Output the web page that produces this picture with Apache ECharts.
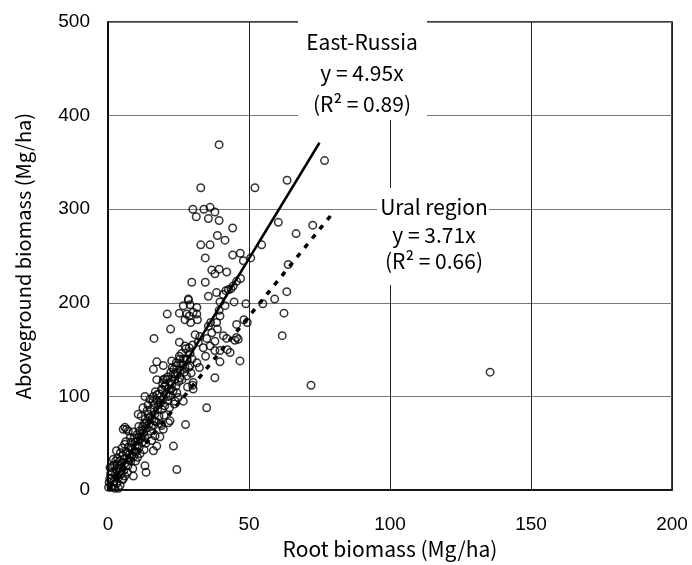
<!DOCTYPE html>
<html>
<head>
<meta charset="utf-8">
<script src="https://cdn.jsdelivr.net/npm/echarts@6/dist/echarts.min.js"></script>
<style>
  html, body { margin: 0; padding: 0; background: #fff; }
  #chart { width: 692px; height: 565px; }
</style>
</head>
<body>
<div id="chart"></div>
<script>
// root biomass (x) / aboveground biomass (y)
const plots = [
  [39.4, 369], [32.9, 323], [52.1, 323], [63.5, 331], [76.8, 352],
  [30.1, 300], [31.3, 292], [34.0, 300], [36.2, 302], [37.9, 297], [35.6, 290], [39.4, 288], [44.2, 280],
  [38.8, 272], [41.5, 267], [32.9, 262], [36.2, 262], [34.5, 248], [44.2, 251], [46.9, 253], [48.0, 245],
  [50.6, 248], [54.5, 262], [60.4, 286], [66.7, 274], [72.6, 283],
  [63.9, 241], [63.4, 212], [59.1, 204], [36.8, 235], [37.9, 231], [39.4, 236], [42.1, 233],
  [29.7, 222], [34.5, 222], [47.0, 226], [28.5, 204], [35.6, 207], [38.5, 211], [41.8, 213], [43.6, 215],
  [40.9, 209], [42.7, 214], [44.4, 218], [45.6, 223],
  [44.7, 201], [48.9, 199], [54.9, 199],
  [28.5, 203], [29.1, 198], [26.7, 197], [31.5, 195],
  [21.0, 188], [25.3, 189], [27.9, 188], [30.2, 190], [31.5, 188], [28.8, 186], [27.3, 182], [29.3, 179], [31.7, 182],
  [39.7, 201], [41.5, 197], [39.4, 192], [39.7, 186], [38.5, 179],
  [36.4, 179], [35.6, 175], [38.8, 172], [36.8, 168],
  [45.6, 177], [49.4, 179], [48.2, 182],
  [22.2, 172], [16.3, 162],
  [30.9, 166], [32.6, 164], [35.0, 162], [37.9, 159], [40.9, 165], [42.1, 162],
  [45.6, 163], [45.0, 160], [46.2, 161],
  [25.3, 158], [27.3, 154], [30.0, 155], [32.0, 158], [33.8, 152], [36.2, 154], [37.9, 149], [34.6, 143],
  [39.7, 149], [42.3, 150], [43.3, 147], [46.8, 138], [39.7, 137],
  [17.3, 137], [19.6, 133], [22.6, 138], [24.3, 133], [25.5, 140], [27.9, 140], [29.1, 133], [31.5, 136], [32.4, 131],
  [37.9, 120], [30.0, 112],
  [16.1, 129], [17.3, 118], [20.2, 119], [23.2, 124], [25.5, 120], [27.9, 122],
  [61.8, 165], [62.4, 189], [72.0, 112], [135.5, 126],
  [30.2, 108], [35.0, 88], [27.5, 70], [23.2, 47], [24.4, 22],
  [16.1, 42], [13.5, 19], [9.0, 15], [5.4, 12], [6.0, 15], [13.1, 26],
  [6.0, 67], [6.6, 65], [10.7, 81], [19.6, 65], [19.0, 69], [21.4, 72], [22.0, 74],
  [16.7, 58], [15.5, 53], [17.3, 47],
  [26.7, 95], [24.9, 99], [23.8, 95], [13.1, 100], [14.9, 97], [16.1, 100],
  [19.6, 118], [20.2, 111], [22.0, 115], [19.0, 108],
  [5.4, 65], [7.2, 63], [30.2, 115],
  // dense band near the origin
  [0.4, 8], [1.1, 3], [1.3, 13], [0.7, 24], [1.9, 33], [2.1, 9], [2.4, 2], [2.6, 17], [2.9, 22], [3.1, 7],
  [3.3, 27], [3.6, 13], [3.9, 19], [4.1, 31], [4.3, 5], [4.6, 24], [4.9, 29], [5.1, 11], [5.3, 37], [1.7, 26],
  [2.7, 31], [3.7, 2], [4.4, 40], [0.9, 17], [5.6, 21], [6.1, 29], [6.3, 41], [6.7, 34], [7.1, 26], [7.2, 46],
  [7.6, 38], [8.1, 31], [8.2, 51], [8.6, 43], [9.1, 36], [9.3, 56], [9.6, 47], [10.1, 41], [10.2, 59], [5.9, 49],
  [7.9, 56], [8.8, 23], [9.8, 31], [10.6, 53], [11.1, 46], [11.2, 63], [11.6, 55], [12.1, 51], [12.3, 68], [12.6, 61],
  [13.1, 56], [13.2, 76], [13.6, 66], [14.1, 59], [14.3, 81], [14.6, 71], [15.1, 63], [15.2, 86], [11.8, 79], [12.8, 43],
  [14.2, 91], [15.6, 76], [16.1, 69], [16.2, 91], [16.6, 81], [17.1, 73], [17.2, 96], [17.6, 86], [18.1, 79], [18.2, 103],
  [18.6, 93], [19.1, 86], [19.2, 107], [19.6, 98], [20.1, 90], [20.3, 112], [16.8, 105], [18.8, 71], [20.6, 103], [21.1, 96],
  [21.2, 121], [21.6, 108], [22.1, 101], [22.3, 126], [22.6, 113], [23.1, 106], [23.3, 129], [23.6, 118], [24.1, 111], [24.2, 136],
  [24.6, 125], [25.1, 116], [25.3, 143], [21.8, 88], [23.5, 92], [25.6, 128], [26.1, 146], [26.5, 134], [27.1, 126], [27.6, 151],
  [28.1, 139], [28.6, 131], [29.1, 146], [29.5, 125], [26.2, 118], [28.2, 110], [3.0, 42], [10.5, 35], [12.4, 88], [18.4, 57],
  [1.5, 19], [2.3, 27], [3.4, 34], [4.7, 17], [5.0, 45], [6.4, 52], [6.9, 19], [7.4, 32], [8.4, 37], [8.9, 62],
  [9.4, 41], [10.4, 48], [10.9, 68], [11.4, 39], [11.9, 58], [12.9, 71], [13.4, 50], [13.9, 85], [14.8, 77], [15.4, 68],
  [15.9, 95], [16.4, 74], [17.4, 102], [17.9, 91], [18.9, 96], [19.4, 114], [19.9, 80], [20.8, 118], [21.4, 100], [22.4, 108],
  [22.8, 131], [23.9, 124], [24.4, 104], [25.8, 135], [26.8, 140], [27.3, 131], [28.8, 152], [29.8, 140], [0.2, 3], [0.6, 12],
  [2.0, 5], [3.2, 15], [4.0, 23], [5.7, 33], [7.0, 40], [8.3, 45], [9.7, 52], [11.0, 57], [12.2, 64], [13.7, 72]
];
// regression lines y = 4.95x (East-Russia) and y = 3.71x (Ural region)
const eastLine = [[0, 0], [75, 371]];
const uralLine = [[0, 0], [80, 297]];
const xTicks = [0, 50, 100, 150, 200];
const yTicks = [0, 100, 200, 300, 400, 500];

const chart = echarts.init(document.getElementById('chart'), null, { renderer: 'canvas' });

const tickFont = { fontFamily: '"Liberation Sans", Arial, sans-serif', fontSize: 19, color: '#000' };
const jpFont = '"Noto Sans CJK JP", "Noto Sans", sans-serif';

// annotation lines, drawn on white boxes
const noteText = (x, y, text) => ({
  type: 'text', z: 101, x: x, y: y,
  style: { text: text, fontFamily: jpFont, fontSize: 21, fill: '#000', align: 'center', verticalAlign: 'middle' }
});

const option = {
  animation: false,
  grid: {
    left: 108, right: 20, top: 22, bottom: 74,
    show: true, borderColor: '#000', borderWidth: 1.5
  },
  xAxis: {
    type: 'value',
    min: xTicks[0], max: xTicks[xTicks.length - 1], interval: 50,
    name: 'Root biomass (Mg/ha)',
    nameLocation: 'middle', nameGap: 46,
    nameTextStyle: { fontFamily: jpFont, fontSize: 21, color: '#000' },
    axisLine: { show: true, lineStyle: { color: '#000', width: 1.5 } },
    axisTick: { show: false },
    axisLabel: Object.assign({ margin: 25 }, tickFont),
    splitLine: { show: true, lineStyle: { color: '#222', width: 1 } }
  },
  yAxis: {
    type: 'value',
    min: yTicks[0], max: yTicks[yTicks.length - 1], interval: 100,
    name: 'Aboveground biomass (Mg/ha)',
    nameLocation: 'middle', nameGap: 75,
    nameTextStyle: { fontFamily: jpFont, fontSize: 20, color: '#000' },
    axisLine: { show: true, lineStyle: { color: '#000', width: 1.5 } },
    axisTick: { show: false },
    axisLabel: Object.assign({ margin: 18 }, tickFont),
    splitLine: { show: true, lineStyle: { color: '#777', width: 1.2 } }
  },
  series: [
    {
      type: 'scatter',
      data: plots,
      symbol: 'circle',
      symbolSize: 7.5,
      itemStyle: { color: 'rgba(0,0,0,0)', borderColor: '#000', borderWidth: 1.5 },
      z: 3
    },
    {
      type: 'line',
      data: eastLine,
      symbol: 'none',
      lineStyle: { color: '#000', width: 2.5 },
      z: 4
    },
    {
      type: 'line',
      data: uralLine,
      symbol: 'none',
      lineStyle: { color: '#000', width: 3.5, type: [5, 7] },
      z: 4
    }
  ],
  graphic: [
    { type: 'rect', z: 100, shape: { x: 298, y: 14, width: 129, height: 106 }, style: { fill: '#fff' } },
    { type: 'rect', z: 100, shape: { x: 377, y: 188, width: 112, height: 97 }, style: { fill: '#fff' } },
    noteText(362, 42, 'East-Russia'),
    noteText(362, 73, 'y = 4.95x'),
    noteText(362, 104, '(R² = 0.89)'),
    noteText(434, 207, 'Ural region'),
    noteText(434, 235, 'y = 3.71x'),
    noteText(434, 261, '(R² = 0.66)')
  ]
};

chart.setOption(option);
</script>
</body>
</html>
